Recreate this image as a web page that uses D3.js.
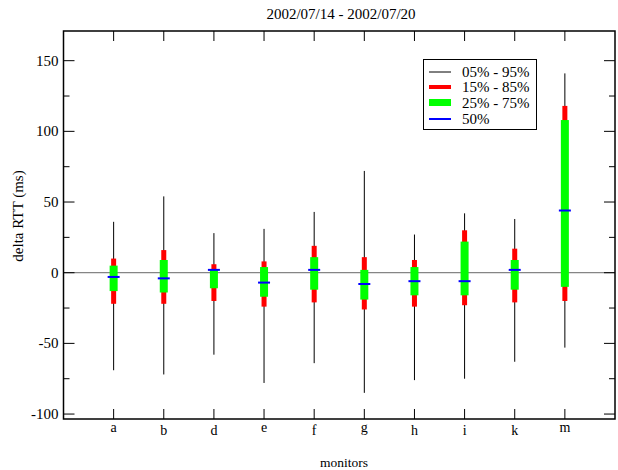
<!DOCTYPE html>
<html>
<head>
<meta charset="utf-8">
<script src="https://cdn.jsdelivr.net/npm/d3@7"></script>
<style>
  body { margin: 0; background: #fff; }
  text { font-family: "Liberation Serif", "DejaVu Serif", serif; fill: #000; }
</style>
</head>
<body>
<div id="chart"></div>
<script>
"use strict";

// monitors on the x axis
const monitors = ["a", "b", "d", "e", "f", "g", "h", "i", "k", "m"];
// percentiles of delta RTT (ms), one value per monitor
const p05 = [-69, -72, -58, -78, -64, -85, -76, -75, -63, -53];
const p95 = [36, 54, 28, 31, 43, 72, 27, 42, 38, 141];
const p15 = [-22, -22, -20, -24, -21, -26, -24, -23, -21, -20];
const p85 = [10, 16, 6, 8, 19, 11, 9, 30, 17, 118];
const p25 = [-13, -14, -11, -17, -12, -19, -16, -16, -12, -10];
const p75 = [5, 9, 2, 4, 11, 2, 4, 22, 9, 108];
const p50 = [-3, -4, 2, -7, 2, -8, -6, -6, 2, 44];

const yMajor = [-100, -50, 0, 50, 100, 150];
const yMinor = [-75, -25, 25, 75, 125];
const legendLabels = ["05% - 95%", "15% - 85%", "25% - 75%", "50%"];

const W = 618, H = 470;
const pLeft = 63.5, pRight = 615, pTop = 31, pBottom = 419;

const svg = d3.select("#chart").append("svg")
  .attr("width", W).attr("height", H);

const x = d3.scaleLinear().domain([0, monitors.length + 1]).range([pLeft, pRight]);
const y = d3.scaleLinear().domain([-103.5, 171]).range([pBottom, pTop]);

const rows = monitors.map((m, i) => ({
  name: m, i: i + 1,
  p05: p05[i], p95: p95[i], p15: p15[i], p85: p85[i],
  p25: p25[i], p75: p75[i], p50: p50[i]
}));

// zero line
svg.append("line")
  .attr("x1", pLeft).attr("x2", pRight)
  .attr("y1", y(0)).attr("y2", y(0))
  .attr("stroke", "#666").attr("stroke-width", 1);

// 5-95 whiskers
svg.append("g").selectAll("line").data(rows).join("line")
  .attr("x1", d => x(d.i)).attr("x2", d => x(d.i))
  .attr("y1", d => y(d.p95)).attr("y2", d => y(d.p05))
  .attr("stroke", "#000").attr("stroke-width", 1);

// 15-85
svg.append("g").selectAll("rect").data(rows).join("rect")
  .attr("x", d => x(d.i) - 2.5).attr("width", 5)
  .attr("y", d => y(d.p85)).attr("height", d => y(d.p15) - y(d.p85))
  .attr("fill", "#ff0000");

// 25-75
svg.append("g").selectAll("rect").data(rows).join("rect")
  .attr("x", d => x(d.i) - 4).attr("width", 8)
  .attr("y", d => y(d.p75)).attr("height", d => y(d.p25) - y(d.p75))
  .attr("fill", "#00ff00");

// median
svg.append("g").selectAll("line").data(rows).join("line")
  .attr("x1", d => x(d.i) - 6).attr("x2", d => x(d.i) + 6)
  .attr("y1", d => y(d.p50)).attr("y2", d => y(d.p50))
  .attr("stroke", "#0000ff").attr("stroke-width", 2);

// frame
svg.append("rect")
  .attr("x", pLeft).attr("y", pTop)
  .attr("width", pRight - pLeft).attr("height", pBottom - pTop)
  .attr("fill", "none").attr("stroke", "#000").attr("stroke-width", 1.5);

// ticks (all inward)
const tk = svg.append("g").attr("stroke", "#000").attr("stroke-width", 1);
yMajor.forEach(v => {
  tk.append("line").attr("x1", pLeft).attr("x2", pLeft + 11).attr("y1", y(v)).attr("y2", y(v));
  tk.append("line").attr("x1", pRight).attr("x2", pRight - 11).attr("y1", y(v)).attr("y2", y(v));
});
yMinor.forEach(v => {
  tk.append("line").attr("x1", pLeft).attr("x2", pLeft + 6).attr("y1", y(v)).attr("y2", y(v));
  tk.append("line").attr("x1", pRight).attr("x2", pRight - 6).attr("y1", y(v)).attr("y2", y(v));
});
rows.forEach(d => {
  tk.append("line").attr("x1", x(d.i)).attr("x2", x(d.i)).attr("y1", pBottom).attr("y2", pBottom - 10);
  tk.append("line").attr("x1", x(d.i)).attr("x2", x(d.i)).attr("y1", pTop).attr("y2", pTop + 10);
});

// y tick labels
svg.append("g").selectAll("text").data(yMajor).join("text")
  .attr("x", pLeft - 5).attr("y", d => y(d) + 5)
  .attr("text-anchor", "end").style("font-size", "15px")
  .text(d => d);

// x tick labels (short glyphs sit a little higher, like the original)
svg.append("g").selectAll("text").data(rows).join("text")
  .attr("x", d => x(d.i))
  .attr("y", d => "aegm".includes(d.name) ? 431.5 : 435)
  .attr("text-anchor", "middle").style("font-size", "14px")
  .text(d => d.name);

// titles
svg.append("text").attr("x", 341).attr("y", 19)
  .attr("text-anchor", "middle").style("font-size", "15px")
  .text("2002/07/14 - 2002/07/20");
svg.append("text").attr("x", 344).attr("y", 467)
  .attr("text-anchor", "middle").style("font-size", "13.5px")
  .text("monitors");
svg.append("text")
  .attr("transform", "translate(23,216) rotate(-90)")
  .attr("text-anchor", "middle").style("font-size", "15px")
  .text("delta RTT (ms)");

// legend
const lg = svg.append("g");
lg.append("rect").attr("x", 423.5).attr("y", 59.5).attr("width", 113).attr("height", 70)
  .attr("fill", "#fff").attr("stroke", "#000").attr("stroke-width", 1);
const lgColor = ["#000", "#ff0000", "#00ff00", "#0000ff"];
const lgWidth = [1, 4, 7, 2];
const lgRow = [72, 87, 102.5, 119];
legendLabels.forEach((t, i) => {
  lg.append("line").attr("x1", 429).attr("x2", 451).attr("y1", lgRow[i]).attr("y2", lgRow[i])
    .attr("stroke", lgColor[i]).attr("stroke-width", lgWidth[i]);
  lg.append("text").attr("x", 462).attr("y", lgRow[i] + 5)
    .style("font-size", "15px").text(t);
});
</script>
</body>
</html>
